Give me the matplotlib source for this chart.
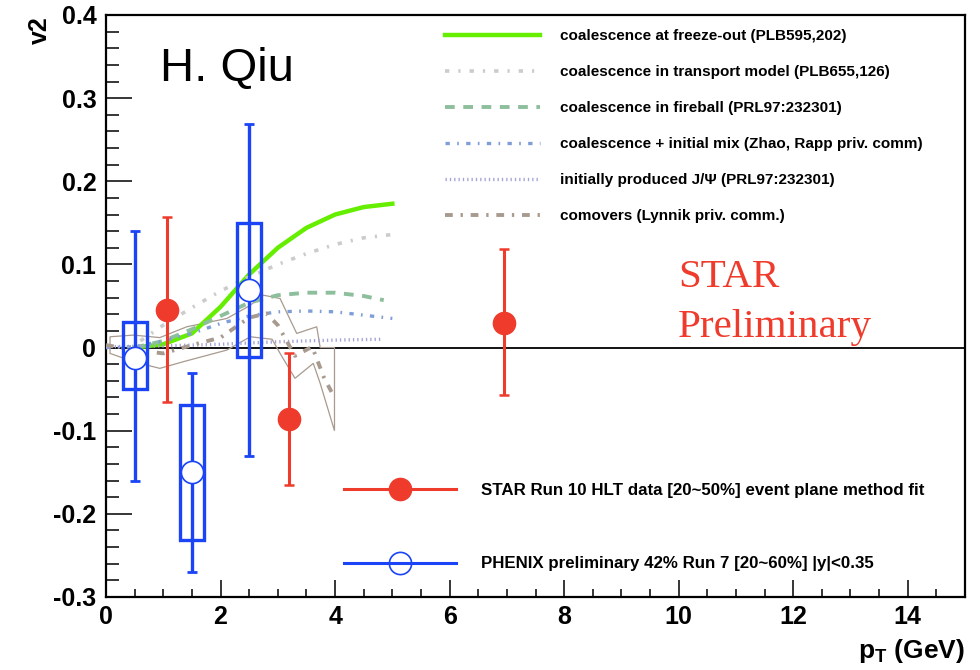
import matplotlib
matplotlib.use("Agg")
import matplotlib.pyplot as plt
from matplotlib.lines import Line2D
from matplotlib.patches import Rectangle
import numpy as np

plt.rcParams['font.family'] = ['Liberation Sans', 'DejaVu Sans']
plt.rcParams['mathtext.fontset'] = 'custom'
plt.rcParams['mathtext.bf'] = 'Liberation Sans:bold'
plt.rcParams['mathtext.rm'] = 'Liberation Sans'

# ---------------- data ----------------
star_pt = [1.06, 3.20, 6.95]
star_v2 = [0.045, -0.086, 0.029]
star_err_hi = [0.157, -0.007, 0.118]
star_err_lo = [-0.065, -0.165, -0.057]

phenix_pt = [0.5, 1.5, 2.5]
phenix_v2 = [-0.012, -0.150, 0.069]
phenix_err_hi = [0.140, -0.031, 0.269]
phenix_err_lo = [-0.160, -0.270, -0.131]
phenix_sys_hi = [0.031, -0.069, 0.150]
phenix_sys_lo = [-0.050, -0.232, -0.011]

freeze_x = [0.5, 1.0, 1.5, 2.0, 2.5, 3.0, 3.5, 4.0, 4.5, 5.0]
freeze_y = [0.0, 0.004, 0.017, 0.049, 0.088, 0.120, 0.144, 0.160, 0.169, 0.173]

transport_x = [0.6, 1.0, 1.5, 2.0, 2.5, 3.0, 3.5, 4.0, 4.5, 5.0]
transport_y = [0.008, 0.027, 0.048, 0.068, 0.085, 0.100, 0.113, 0.124, 0.132, 0.136]

fireball_x = [0.5, 1.0, 1.5, 2.0, 2.5, 3.0, 3.5, 4.0, 4.5, 4.85]
fireball_y = [0.0, 0.008, 0.022, 0.038, 0.054, 0.063, 0.066, 0.066, 0.062, 0.057]

mix_x = [0.0, 0.5, 1.0, 1.5, 2.0, 2.5, 3.0, 3.5, 4.0, 4.5, 5.0]
mix_y = [0.0, 0.001, 0.008, 0.017, 0.029, 0.038, 0.043, 0.044, 0.043, 0.039, 0.035]

initial_x = [0.0, 1.0, 2.0, 3.0, 4.0, 4.8]
initial_y = [0.001, 0.002, 0.004, 0.007, 0.009, 0.010]

comover_x = [0.0, 0.5, 1.0, 1.5, 2.0, 2.5, 2.8, 3.0, 3.3, 3.6, 3.8, 3.95]
comover_y = [0.003, -0.003, -0.007, 0.003, 0.012, 0.036, 0.041, 0.027, -0.010, 0.001, -0.035, -0.055]

band_up_x = [0.07, 0.48, 0.94, 1.41, 2.11, 2.5, 2.75, 3.04, 3.33, 3.68, 3.74, 3.99]
band_up_y = [0.013, 0.015, 0.012, 0.025, 0.035, 0.050, 0.063, 0.059, 0.017, 0.025, 0.0, 0.0]
band_lo_x = [0.07, 0.48, 0.94, 1.35, 2.11, 2.52, 2.9, 3.04, 3.30, 3.62, 3.74, 3.99]
band_lo_y = [-0.007, -0.017, -0.025, -0.017, -0.003, 0.013, 0.010, -0.007, -0.037, -0.019, -0.043, -0.100]

theory_labels = ["coalescence at freeze-out (PLB595,202)",
                 "coalescence in transport model (PLB655,126)",
                 "coalescence in fireball (PRL97:232301)",
                 "coalescence + initial mix (Zhao, Rapp priv. comm)",
                 "initially produced J/\u03a8 (PRL97:232301)",
                 "comovers (Lynnik priv. comm.)"]
data_labels = ["STAR Run 10 HLT data [20~50%] event plane method fit",
               "PHENIX preliminary 42% Run 7 [20~60%] |y|<0.35"]

xticks = [0, 2, 4, 6, 8, 10, 12, 14]
yticks = [-0.3, -0.2, -0.1, 0, 0.1, 0.2, 0.3, 0.4]
ytick_labels = ["-0.3", "-0.2", "-0.1", "0", "0.1", "0.2", "0.3", "0.4"]

# ---------------- style ----------------
RED = '#ee3b2c'
BLUE = '#1a44f5'
GREEN = '#66ee00'
GRAY = '#cccccc'
GDASH = '#8dbf9c'
BDASH = '#7f9ed8'
LAV = '#a4a4d6'
BROWN = '#a89a8e'

fig = plt.figure(figsize=(9.8, 6.7), dpi=100)
ax = fig.add_axes([106/980, 1-597/670, (965-106)/980, (597-15)/670])
ax.set_xlim(0, 15)
ax.set_ylim(-0.3, 0.4)

# zero line
ax.axhline(0, color='black', lw=1.3, zorder=2)

# theory band (comovers)
bx = list(band_up_x) + list(band_lo_x[::-1])
by = list(band_up_y) + list(band_lo_y[::-1])
ax.fill(bx, by, fill=False, edgecolor=BROWN, lw=0.9, zorder=2)

ax.plot(freeze_x, freeze_y, color=GREEN, lw=3.2, zorder=3)
ax.plot(transport_x, transport_y, color=GRAY, lw=2.6,
        dashes=(1.2, 2.5, 0.6, 2.5), zorder=3)
ax.plot(fireball_x, fireball_y, color=GDASH, lw=2.8,
        dashes=(2.5, 2.2), zorder=3)
ax.plot(mix_x, mix_y, color=BDASH, lw=2.4,
        dashes=(1.3, 2.2, 0.5, 2.2), zorder=3)
ax.plot(initial_x, initial_y, color=LAV, lw=2.4,
        dashes=(0.4, 0.9), zorder=3)
ax.plot(comover_x, comover_y, color=BROWN, lw=2.8,
        dashes=(2.0, 2.0, 0.6, 2.0), zorder=3)

# PHENIX systematic boxes
bw = 0.21
for x, lo, hi in zip(phenix_pt, phenix_sys_lo, phenix_sys_hi):
    ax.add_patch(Rectangle((x - bw, lo), 2 * bw, hi - lo, fill=False,
                           edgecolor=BLUE, lw=2.4, zorder=4))

# PHENIX points
pe = [np.array(phenix_v2) - np.array(phenix_err_lo),
      np.array(phenix_err_hi) - np.array(phenix_v2)]
ax.errorbar(phenix_pt, phenix_v2, yerr=pe, fmt='none', ecolor=BLUE,
            elinewidth=2.4, capsize=3.5, capthick=2.0, zorder=4)
ax.plot(phenix_pt, phenix_v2, ls='none', marker='o', ms=16, mfc='white',
        mec=BLUE, mew=1.2, zorder=5)

# STAR points
se = [np.array(star_v2) - np.array(star_err_lo),
      np.array(star_err_hi) - np.array(star_v2)]
ax.errorbar(star_pt, star_v2, yerr=se, fmt='none', ecolor=RED,
            elinewidth=2.2, capsize=3.5, capthick=1.8, zorder=4)
ax.plot(star_pt, star_v2, ls='none', marker='o', ms=16, mfc=RED,
        mec=RED, zorder=5)

# axes styling
for s in ax.spines.values():
    s.set_linewidth(1.6)
ax.set_xticks(xticks)
ax.set_xticklabels([str(t) for t in xticks])
ax.set_yticks(yticks)
ax.set_yticklabels(ytick_labels)
ax.xaxis.set_minor_locator(matplotlib.ticker.MultipleLocator(0.5))
ax.yaxis.set_minor_locator(matplotlib.ticker.MultipleLocator(0.02))
ax.tick_params(axis='x', which='major', direction='in', length=12, width=1.1,
               labelsize=18, pad=6, top=False)
ax.tick_params(axis='x', which='minor', direction='in', length=6, width=1.1, top=False)
ax.tick_params(axis='y', which='major', direction='in', length=19, width=1.1,
               labelsize=18, pad=7, right=False)
ax.tick_params(axis='y', which='minor', direction='in', length=9.5, width=1.1, right=False)
for lab in ax.get_xticklabels() + ax.get_yticklabels():
    lab.set_fontweight('bold')

fig.text(40/980, 1-30/670, 'v2', rotation=90, fontsize=18, fontweight='bold',
         ha='center', va='center')
fig.text(965/980, 1-651/670, r'$\mathbf{p}_{\mathbf{T}}$ (GeV)', fontsize=19,
         fontweight='bold', ha='right', va='center')

ax.text(0.063, 0.907, 'H. Qiu', transform=ax.transAxes, fontsize=34,
        ha='left', va='center', family='Liberation Sans')
ax.text(0.666, 0.506, 'STAR\nPreliminary', transform=ax.transAxes, fontsize=29.5,
        color=RED, family='Liberation Serif', ha='left', va='center',
        linespacing=1.45)

# legends
h_theory = [Line2D([], [], color=GREEN, lw=3.2),
            Line2D([], [], color=GRAY, lw=2.6, dashes=(1.2, 2.5, 0.6, 2.5)),
            Line2D([], [], color=GDASH, lw=2.8, dashes=(2.5, 2.2)),
            Line2D([], [], color=BDASH, lw=2.4, dashes=(1.3, 2.2, 0.5, 2.2)),
            Line2D([], [], color=LAV, lw=2.4, dashes=(0.4, 0.9)),
            Line2D([], [], color=BROWN, lw=2.8, dashes=(2.0, 2.0, 0.6, 2.0))]
leg1 = ax.legend(h_theory, theory_labels, loc='upper left',
                 bbox_to_anchor=(445/980, 1-29/670), bbox_transform=fig.transFigure,
                 frameon=False, borderpad=0, borderaxespad=0, handlelength=6.2,
                 handletextpad=1.3, labelspacing=1.44,
                 prop={'size': 11, 'weight': 'bold'})
ax.add_artist(leg1)

h_data = [Line2D([], [], color=RED, lw=2.2, marker='o', ms=16, mfc=RED, mec=RED),
          Line2D([], [], color=BLUE, lw=2.2, marker='o', ms=16, mfc='none',
                 mec=BLUE, mew=1.2)]
leg2 = ax.legend(h_data, data_labels, loc='upper left', numpoints=1,
                 bbox_to_anchor=(344/980, 1-483/670), bbox_transform=fig.transFigure,
                 frameon=False, borderpad=0, borderaxespad=0, handlelength=6.6,
                 handletextpad=1.5, labelspacing=3.45,
                 prop={'size': 12.2, 'weight': 'bold'})

fig.savefig('out.png', dpi=100)
